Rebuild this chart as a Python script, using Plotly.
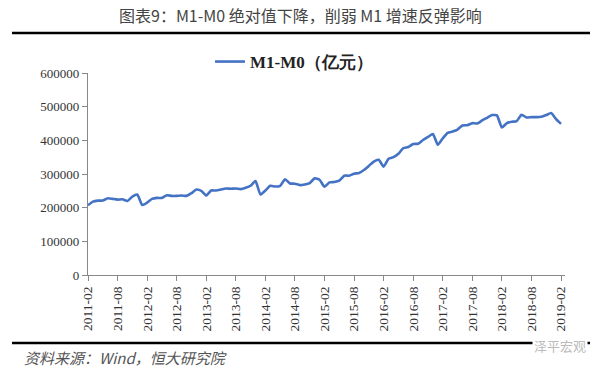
import plotly.graph_objects as go
import pandas as pd

months = [p.strftime("%Y-%m") for p in pd.period_range("2011-02", "2019-02", freq="M")]
m1_minus_m0 = [
    207000, 218000, 221000, 221000, 228000, 226000, 224000, 225000, 220000, 233000, 239000,
    208000, 215000, 226000, 229000, 229000, 237000, 235000, 235000, 236000, 235000, 243000, 254000,
    250000, 236000, 251000, 251000, 254000, 257000, 256000, 257000, 255000, 259000, 265000, 279000,
    239000, 251000, 265000, 263000, 265000, 284000, 272000, 271000, 267000, 269000, 273000, 287000,
    283000, 262000, 275000, 276000, 280000, 295000, 295000, 301000, 303000, 312000, 324000, 337000,
    342000, 322000, 345000, 350000, 360000, 377000, 380000, 389000, 390000, 401000, 410000, 419000,
    387000, 406000, 422000, 426000, 432000, 444000, 445000, 451000, 450000, 459000, 467000, 475000,
    474000, 438000, 451000, 455000, 457000, 476000, 468000, 469000, 469000, 470000, 475000, 481000,
    463000, 449000,
]
tick_labels = months[::6]
y_ticks = [0, 100000, 200000, 300000, 400000, 500000, 600000]

title_text = "图表9：M1-M0 绝对值下降，削弱 M1 增速反弹影响"
series_name = "<b>M1-M0（亿元）</b>"
source_text = "资料来源：Wind，恒大研究院"
watermark = "泽平宏观"

# pixel helpers for paper coordinates
L, R, T, B = 88, 565, 73, 275
def px(x):
    return (x - L) / (R - L)
def py(y):
    return (B - y) / (B - T)

fig = go.Figure()
fig.add_trace(go.Scatter(
    x=months, y=m1_minus_m0, mode="lines", name=series_name,
    line=dict(color="#4472C4", width=2.6, shape="spline", smoothing=0.5),
))

fig.update_layout(
    width=600, height=374,
    margin=dict(l=L, r=600 - R, t=T, b=374 - B, autoexpand=False),
    paper_bgcolor="white", plot_bgcolor="white",
    showlegend=True,
    legend=dict(orientation="h", x=px(210), xanchor="left", y=py(62), yanchor="middle",
                font=dict(family="Liberation Serif", size=17, color="#222"),
                bgcolor="rgba(0,0,0,0)"),
    xaxis=dict(type="category", range=[0, 96 * (R - L) / (561 - L)],
               tickmode="array", tickvals=tick_labels, ticktext=tick_labels,
               tickangle=-90, ticks="outside", ticklen=5, tickcolor="#888",
               showline=True, linecolor="#888", linewidth=1.3, showgrid=False, zeroline=False,
               tickfont=dict(family="Liberation Serif", size=13.5, color="#333")),
    yaxis=dict(range=[0, 600000], tickvals=y_ticks, tickformat="d",
               ticks="outside", ticklen=5, tickcolor="#888",
               showline=True, linecolor="#888", linewidth=1.3, showgrid=False, zeroline=False,
               tickfont=dict(family="Liberation Serif", size=13, color="#333")),
    font=dict(family="Noto Sans CJK SC"),
)

fig.add_shape(type="line", xref="paper", yref="paper", x0=px(12), x1=px(590), y0=py(33), y1=py(33),
              line=dict(color="black", width=2.5))
fig.add_shape(type="line", xref="paper", yref="paper", x0=px(12), x1=px(590), y0=py(343), y1=py(343),
              line=dict(color="black", width=2.5))

fig.add_annotation(text=title_text, xref="paper", yref="paper", x=px(300), y=py(15),
                   xanchor="center", yanchor="middle", showarrow=False,
                   font=dict(family="Noto Sans CJK SC", size=16, color="#444"))
fig.add_annotation(text="<i>" + source_text + "</i>", xref="paper", yref="paper", x=px(22), y=py(357),
                   xanchor="left", yanchor="middle", showarrow=False,
                   font=dict(family="Noto Sans CJK SC", size=15, color="#555"))
fig.add_annotation(text=watermark, xref="paper", yref="paper", x=px(588), y=py(345),
                   xanchor="right", yanchor="middle", showarrow=False, bgcolor="white",
                   font=dict(family="Noto Sans CJK SC", size=13, color="#bbb"))

fig.write_html("out.html", config={"displayModeBar": False},
               post_script="document.body.style.margin='0';document.body.style.overflow='hidden';")
